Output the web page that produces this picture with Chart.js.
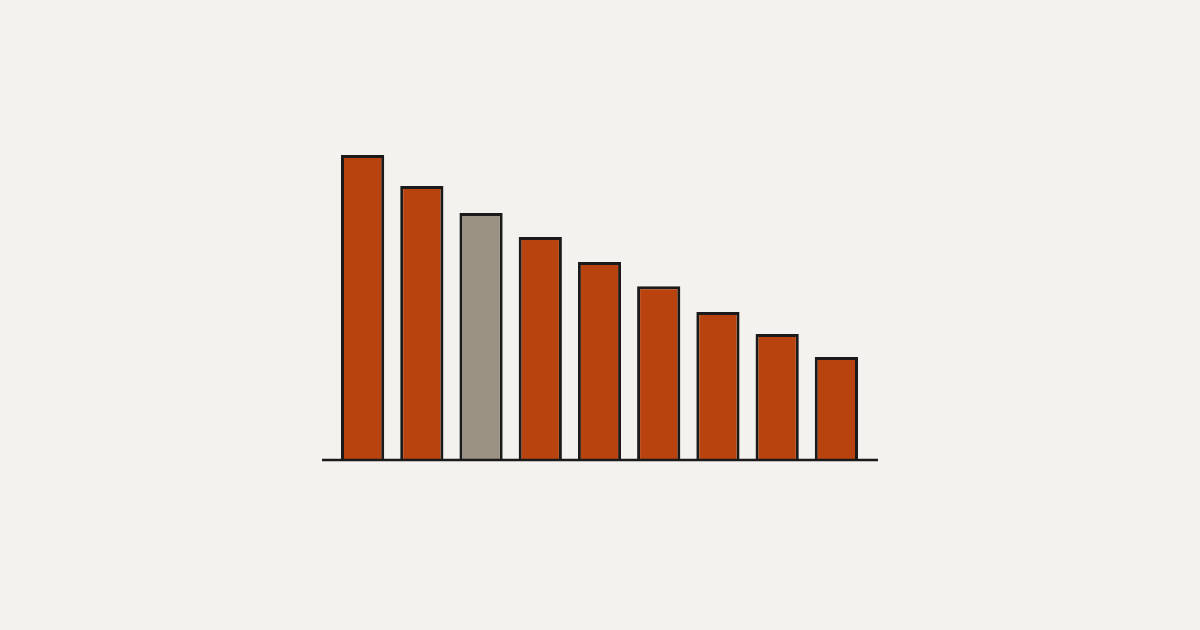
<!DOCTYPE html>
<html>
<head>
<meta charset="utf-8">
<script src="https://cdn.jsdelivr.net/npm/chart.js@4"></script>
<style>
html,body{margin:0;padding:0;background:#f3f2ee;}
#wrap{width:1200px;height:630px;position:relative;}
</style>
</head>
<body>
<div id="wrap"><canvas id="c" width="1200" height="630"></canvas></div>
<script>
const categories = ["1","2","3","4","5","6","7","8","9"];
const values = [100, 89.8, 81, 73.1, 64.9, 57, 48.5, 41.3, 33.8];
const highlightIndex = 2;

const barColor = "#b8430f";
const highlightColor = "#9b9283";

const baselinePlugin = {
  id: "baseline",
  afterDatasetsDraw(chart) {
    const {ctx, chartArea, scales} = chart;
    const y = scales.y.getPixelForValue(0);
    ctx.save();
    ctx.strokeStyle = "#1a1a1a";
    ctx.lineWidth = 2.6;
    ctx.beginPath();
    ctx.moveTo(chartArea.left - 11, y);
    ctx.lineTo(chartArea.right + 12, y);
    ctx.stroke();
    ctx.restore();
  }
};

new Chart(document.getElementById("c"), {
  type: "bar",
  data: {
    labels: categories,
    datasets: [{
      data: values,
      backgroundColor: values.map((v, i) => i === highlightIndex ? highlightColor : barColor),
      borderColor: "#1a1a1a",
      borderWidth: 3,
      borderSkipped: "start",
      barPercentage: 0.73,
      categoryPercentage: 1
    }]
  },
  options: {
    responsive: false,
    animation: false,
    devicePixelRatio: 1,
    layout: { padding: { left: 333, right: 334, top: 155, bottom: 170 } },
    plugins: { legend: { display: false }, tooltip: { enabled: false } },
    scales: {
      x: { display: false },
      y: { display: false, min: 0, max: 100 }
    }
  },
  plugins: [baselinePlugin]
});
</script>
</body>
</html>
